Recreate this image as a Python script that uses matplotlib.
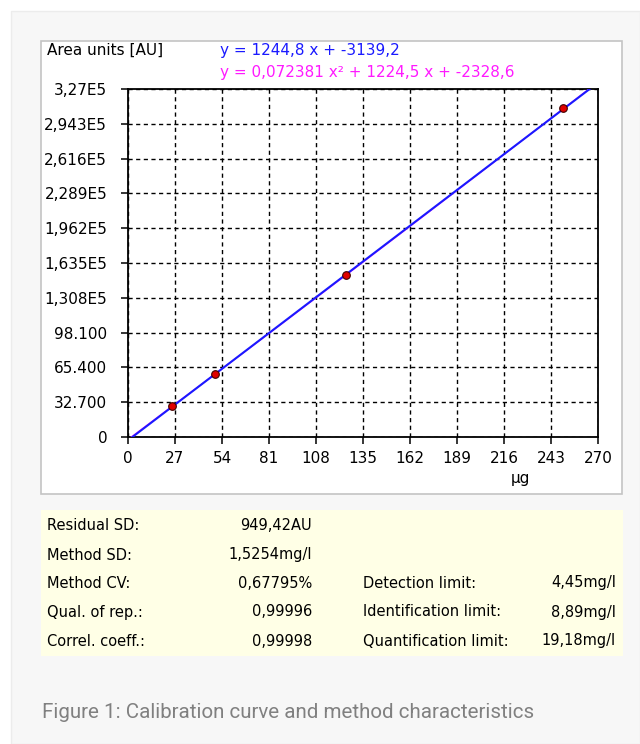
import numpy as np
import matplotlib
matplotlib.use("Agg")
import matplotlib.pyplot as plt
from matplotlib.patches import Rectangle

# calibration points
conc = [25, 50, 125, 250]
area = [29000, 59000, 152000, 309000]

# fit coefficients as printed on the chart
lin_coef = [1244.8, -3139.2]
quad_coef = [0.072381, 1224.5, -2328.6]
lin_label = "y = 1244,8 x + -3139,2"
quad_label = "y = 0,072381 x\u00b2 + 1224,5 x + -2328,6"

x_ticks = [0, 27, 54, 81, 108, 135, 162, 189, 216, 243, 270]
y_ticks = [0, 32700, 65400, 98100, 130800, 163500, 196200, 228900, 261600, 294300, 327000]
y_tick_labels = ["0", "32.700", "65.400", "98.100", "1,308E5", "1,635E5",
                 "1,962E5", "2,289E5", "2,616E5", "2,943E5", "3,27E5"]

stat_names = ["Residual SD:", "Method SD:", "Method CV:", "Qual. of rep.:", "Correl. coeff.:"]
stat_values = ["949,42AU", "1,5254mg/l", "0,67795%", "0,99996", "0,99998"]
limit_names = ["Detection limit:", "Identification limit:", "Quantification limit:"]
limit_values = ["4,45mg/l", "8,89mg/l", "19,18mg/l"]

caption = "Figure 1: Calibration curve and method characteristics"

W, H = 640, 744
fig = plt.figure(figsize=(W / 100, H / 100), dpi=100, facecolor="white")


def px(x, y):
    # pixel coords (top-left origin) -> figure fraction
    return x / W, 1 - y / H


def box(x0, y0, x1, y1, **kw):
    fig.patches.append(Rectangle((x0 / W, 1 - y1 / H), (x1 - x0) / W, (y1 - y0) / H,
                                 transform=fig.transFigure, **kw))


# page background and panels
box(11, 11, 640, 744, facecolor="#f7f7f7", edgecolor="#ececec", lw=1, zorder=0)
box(41, 41, 622, 494, facecolor="white", edgecolor="#c4c4c4", lw=1.2, zorder=1)
box(41, 510, 623, 656, facecolor="#ffffe6", edgecolor="none", zorder=1)

font = "DejaVu Sans"
fs = 11
fs_tab = 10.5

# plot area
x0, x1, yt, yb = 128, 598, 89, 437
ax = fig.add_axes([x0 / W, 1 - yb / H, (x1 - x0) / W, (yb - yt) / H])
ax.set_zorder(5)
ax.set_facecolor("white")
ax.set_xlim(0, 270)
ax.set_ylim(0, 327000)

xs = np.linspace(0, 270, 300)
ax.plot(xs, np.polyval(quad_coef, xs), color="#ff33ff", lw=1.0, zorder=3)
ax.plot(xs, np.polyval(lin_coef, xs), color="#1a1aff", lw=1.5, zorder=4)
ax.plot(conc, area, "o", color="#e00000", mec="#400000", mew=0.8, ms=5.5, zorder=5)

ax.set_xticks(x_ticks)
ax.set_xticklabels([str(v) for v in x_ticks], fontsize=fs, family=font)
ax.set_yticks(y_ticks)
ax.set_yticklabels(y_tick_labels, fontsize=fs, family=font)
ax.tick_params(axis="x", direction="out", length=5, width=1.1, pad=5, colors="black")
ax.tick_params(axis="y", direction="out", length=5, width=1.1, pad=10, colors="black")
ax.grid(True, color="black", linestyle=(0, (3, 2.5)), lw=1.0)
for s in ax.spines.values():
    s.set_color("black")
    s.set_linewidth(1.3)

fig.text(*px(520, 478), "\u00b5g", fontsize=fs, family=font, ha="center", va="center")
fig.text(*px(47, 50), "Area units [AU]", fontsize=fs, family=font, ha="left", va="center")
fig.text(*px(220, 50), lin_label, fontsize=fs, family=font, color="#1a1aff",
         ha="left", va="center")
fig.text(*px(220, 72), quad_label, fontsize=fs, family=font, color="#ff1aff",
         ha="left", va="center")

# method characteristics
row_y = [526, 555, 583, 612, 641]
for i, (name, val) in enumerate(zip(stat_names, stat_values)):
    fig.text(*px(47, row_y[i]), name, fontsize=fs_tab, family=font, ha="left", va="center")
    fig.text(*px(312, row_y[i]), val, fontsize=fs_tab, family=font, ha="right", va="center")
for i, (name, val) in enumerate(zip(limit_names, limit_values)):
    fig.text(*px(363, row_y[i + 2]), name, fontsize=fs_tab, family=font, ha="left", va="center")
    fig.text(*px(616, row_y[i + 2]), val, fontsize=fs_tab, family=font, ha="right", va="center")

fig.text(*px(42, 712), caption, fontsize=14.8, family="Roboto", color="#808080",
         ha="left", va="center")

fig.savefig("out.png", dpi=100, facecolor="white")
